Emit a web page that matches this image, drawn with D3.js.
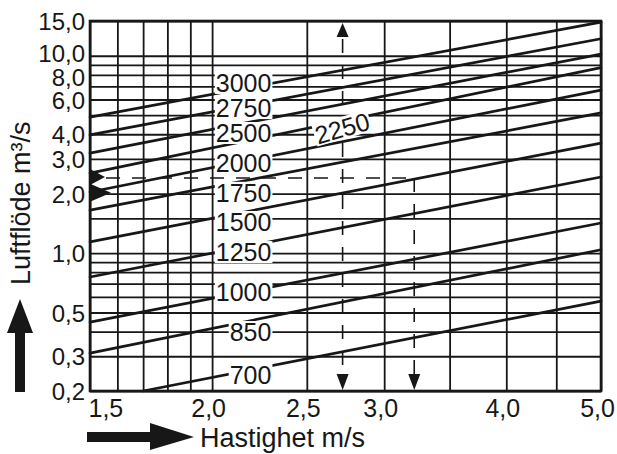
<!DOCTYPE html>
<html><head><meta charset="utf-8">
<script src="https://cdn.jsdelivr.net/npm/d3@7"></script>
<style>
body{margin:0;background:#fff;}
svg{display:block;font-family:"Liberation Sans",Arial,Helvetica,sans-serif;}
</style></head><body>
<svg id="c" width="617" height="454"></svg>
<script>
// ---- data ----
const vGrid = [1.5,1.6,1.7,1.8,1.9,2.0,2.5,3.0,3.5,4.0,4.5,5.0];
const qGrid = [0.2,0.3,0.4,0.5,0.6,0.7,0.8,0.9,1,1.5,2,3,4,5,6,7,8,9,10,15];
const xTicks = [1.5,2.0,2.5,3.0,4.0,5.0];
const xTickLabels = ["1,5","2,0","2,5","3,0","4,0","5,0"];
const yTicks = [0.2,0.3,0.5,1,2,3,4,6,8,10,15];
const yTickLabels = ["0,2","0,3","0,5","1,0","2,0","3,0","4,0","6,0","8,0","10,0","15,0"];
const lineLabels = ["3000","2750","2500","2250","2000","1750","1500","1250","1000","850","700"];
const lineVStart = [1.5,1.5,1.5,1.5,1.5,1.5,1.5,1.5,1.5,1.5,1.7];
const lineQStart = [4.89,3.97,3.21,2.54,2.04,1.65,1.14,0.756,0.447,0.311,0.2];
const lineVEnd   = [5,5,5,5,5,5,5,5,5,5,5];
const lineQEnd   = [14.8,12.2,10.2,8.7,6.7,5.13,3.61,2.43,1.42,1.04,0.571];
// example reading (dashed)
const exampleV = [2.72, 3.22];
const exampleQ = 2.4;
// label anchors (in data units): right edge v, centre Q
const labelV = [2.30,2.30,2.30,2.717,2.30,2.30,2.30,2.30,2.30,2.30,2.30];
const labelQ = [7.28,5.43,4.06,4.30,2.86,2.02,1.437,1.012,0.635,0.398,0.241];

// ---- layout ----
const m = {l:90, r:601, t:21, b:391};
const x = d3.scaleLog().domain([1.5,5]).range([m.l,m.r]);
const y = d3.scaleLog().domain([0.2,15]).range([m.b,m.t]);
const ink = "#171717";
const svg = d3.select("#c");
svg.append("rect").attr("width",617).attr("height",454).attr("fill","#fff");

// grid via axes
const gx = svg.append("g").attr("transform",`translate(0,${m.b})`)
  .call(d3.axisBottom(x).tickValues(vGrid).tickSize(-(m.b-m.t)).tickPadding(8)
    .tickFormat(d => { const i = xTicks.indexOf(d); return i < 0 ? "" : xTickLabels[i]; }));
const gy = svg.append("g").attr("transform",`translate(${m.l},0)`)
  .call(d3.axisLeft(y).tickValues(qGrid).tickSize(-(m.r-m.l)).tickPadding(5)
    .tickFormat(d => { const i = yTicks.indexOf(d); return i < 0 ? "" : yTickLabels[i]; }));
[gx,gy].forEach(g => {
  g.select(".domain").remove();
  g.selectAll(".tick line").attr("stroke",ink).attr("stroke-width",1.8);
  g.selectAll(".tick text").attr("fill",ink).attr("font-size",25);
});
gx.selectAll(".tick text").attr("dx",-4)
  .filter(d => d === 1.5).attr("text-anchor","start").attr("dx",-2);
gy.selectAll(".tick text").attr("font-size",24).attr("dy","0.36em");
gy.selectAll(".tick text").filter(d => d === 10).attr("dy","0.26em");
gy.selectAll(".tick text").filter(d => d === 8).attr("dy","0.44em");

// frame
svg.append("rect").attr("x",m.l).attr("y",m.t).attr("width",m.r-m.l).attr("height",m.b-m.t)
  .attr("fill","none").attr("stroke",ink).attr("stroke-width",2.6);

// diagonal lines
const lines = lineLabels.map((l,i) => ({l, v0:lineVStart[i], q0:lineQStart[i], v1:lineVEnd[i], q1:lineQEnd[i]}));
svg.append("g").selectAll("line").data(lines).join("line")
  .attr("x1",d=>x(d.v0)).attr("y1",d=>y(d.q0)).attr("x2",d=>x(d.v1)).attr("y2",d=>y(d.q1))
  .attr("stroke",ink).attr("stroke-width",2.7).attr("stroke-linecap","round");

// dashed example
const dg = svg.append("g").attr("stroke",ink).attr("stroke-width",1.6).attr("stroke-dasharray","14,12");
dg.append("line").attr("x1",x(exampleV[0])).attr("x2",x(exampleV[0])).attr("y1",m.t+18).attr("y2",m.b-16);
dg.append("line").attr("x1",x(exampleV[1])).attr("x2",x(exampleV[1])).attr("y1",y(exampleQ)).attr("y2",m.b-16);
dg.append("line").attr("x1",m.l+16).attr("x2",x(exampleV[1])).attr("y1",y(exampleQ)).attr("y2",y(exampleQ));
const tri = pts => svg.append("path").attr("d","M"+pts.map(p=>p.join(",")).join("L")+"Z").attr("fill",ink);
{ const xv = x(exampleV[0]);
  tri([[xv,m.t+2],[xv-6,m.t+16],[xv+6,m.t+16]]);
  tri([[xv,m.b-1],[xv-6,m.b-17],[xv+6,m.b-17]]);
  const xw = x(exampleV[1]);
  tri([[xw,m.b-1],[xw-6,m.b-17],[xw+6,m.b-17]]);
  const yq = y(exampleQ);
  tri([[m.l,yq-9],[m.l,yq+7],[m.l+15,yq-1]]);
  const y2 = y(2.02);
  tri([[m.l,y2-9],[m.l,y2+9],[m.l+21,y2]]);
}

// line labels with white masks
lines.forEach((d,i) => {
  const g = svg.append("g");
  const t = g.append("text").text(d.l).attr("font-size",25).attr("fill",ink);
  if (d.l === "2250") {
    t.attr("text-anchor","middle").attr("dy","0.36em");
    g.attr("transform",`translate(${x(labelV[i])},${y(labelQ[i])}) rotate(-16)`);
  } else {
    t.attr("text-anchor","end").attr("dy","0.36em");
    g.attr("transform",`translate(${x(labelV[i])},${y(labelQ[i])})`);
  }
  const b = t.node().getBBox();
  g.insert("rect","text").attr("x",b.x-1).attr("y",b.y+3).attr("width",b.width+2).attr("height",b.height-6).attr("fill","#fff");
});

// big arrows
svg.append("path").attr("fill",ink)
  .attr("d","M20,299 L33,333 L25,333 L25,392 L15,392 L15,333 L7,333 Z");
svg.append("path").attr("fill",ink)
  .attr("d","M87,432 L150,432 L150,423 L194,437 L150,450 L150,442 L87,442 Z");

// axis titles
svg.append("text").text("Hastighet m/s").attr("x",200).attr("y",447)
  .attr("font-size",27).attr("fill",ink);
svg.append("text").text("Luftflöde m³/s").attr("transform","translate(30,285) rotate(-90)")
  .attr("font-size",27).attr("fill",ink);
</script>
</body></html>
